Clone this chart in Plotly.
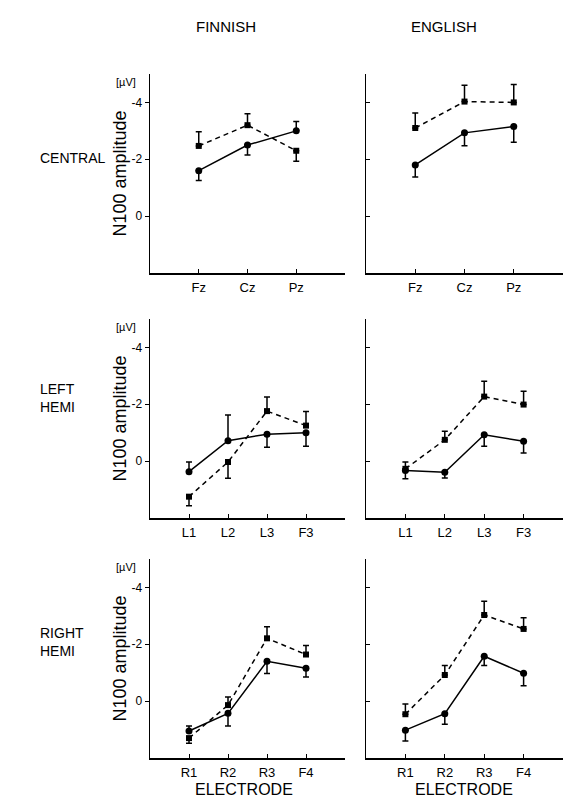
import plotly.graph_objects as go

# ---------------- data ----------------
central_labels = ["Fz", "Cz", "Pz"]
left_labels = ["L1", "L2", "L3", "F3"]
right_labels = ["R1", "R2", "R3", "F4"]

# N100 amplitude (µV); err_pos = error toward positive values, err_neg = toward negative values
fin_central_solid = [-1.6, -2.5, -3.0]
fin_central_solid_pos = [0.35, 0.35, 0.0]
fin_central_solid_neg = [0.0, 0.0, 0.33]
fin_central_dash = [-2.47, -3.2, -2.3]
fin_central_dash_pos = [0.0, 0.0, 0.37]
fin_central_dash_neg = [0.5, 0.4, 0.0]

eng_central_solid = [-1.8, -2.93, -3.15]
eng_central_solid_pos = [0.42, 0.45, 0.55]
eng_central_solid_neg = [0.0, 0.0, 0.0]
eng_central_dash = [-3.1, -4.03, -4.0]
eng_central_dash_pos = [0.0, 0.0, 0.0]
eng_central_dash_neg = [0.53, 0.57, 0.63]

fin_left_solid = [0.37, -0.72, -0.95, -1.0]
fin_left_solid_pos = [0.0, 0.0, 0.46, 0.48]
fin_left_solid_neg = [0.34, 0.9, 0.0, 0.0]
fin_left_dash = [1.25, 0.03, -1.76, -1.25]
fin_left_dash_pos = [0.32, 0.57, 0.0, 0.0]
fin_left_dash_neg = [0.0, 0.0, 0.5, 0.5]

eng_left_solid = [0.33, 0.39, -0.93, -0.7]
eng_left_solid_pos = [0.29, 0.2, 0.41, 0.41]
eng_left_solid_neg = [0.0, 0.0, 0.0, 0.0]
eng_left_dash = [0.27, -0.75, -2.27, -1.99]
eng_left_dash_pos = [0.0, 0.0, 0.0, 0.0]
eng_left_dash_neg = [0.24, 0.3, 0.54, 0.47]

fin_right_solid = [1.05, 0.43, -1.4, -1.16]
fin_right_solid_pos = [0.0, 0.44, 0.43, 0.31]
fin_right_solid_neg = [0.18, 0.0, 0.0, 0.0]
fin_right_dash = [1.3, 0.14, -2.21, -1.64]
fin_right_dash_pos = [0.18, 0.0, 0.0, 0.0]
fin_right_dash_neg = [0.0, 0.29, 0.41, 0.32]

eng_right_solid = [1.02, 0.44, -1.58, -0.98]
eng_right_solid_pos = [0.38, 0.37, 0.33, 0.44]
eng_right_solid_neg = [0.0, 0.0, 0.0, 0.0]
eng_right_dash = [0.46, -0.92, -3.03, -2.54]
eng_right_dash_pos = [0.0, 0.0, 0.0, 0.0]
eng_right_dash_neg = [0.36, 0.33, 0.48, 0.39]

y_tick_vals = [-4, -2, 0]
y_tick_text = ["-4", "-2", "0"]
column_titles = ["FINNISH", "ENGLISH"]
row_titles = ["CENTRAL", "LEFT<br>HEMI", "RIGHT<br>HEMI"]
y_title = "N100 amplitude"
unit_label = "[µV]"
x_title = "ELECTRODE"

# ---------------- layout helpers ----------------
W, H = 564, 799
FONT = "Liberation Sans, Arial, Helvetica, sans-serif"

def px_x(p):
    return p / W

def px_y(p):
    return 1 - p / H

col_dom = [(150, 345), (366, 563)]
row_dom = [(74, 273), (319, 518), (559, 758)]

panels = [
    (0, 0, central_labels, fin_central_solid, fin_central_solid_pos, fin_central_solid_neg,
     fin_central_dash, fin_central_dash_pos, fin_central_dash_neg),
    (0, 1, central_labels, eng_central_solid, eng_central_solid_pos, eng_central_solid_neg,
     eng_central_dash, eng_central_dash_pos, eng_central_dash_neg),
    (1, 0, left_labels, fin_left_solid, fin_left_solid_pos, fin_left_solid_neg,
     fin_left_dash, fin_left_dash_pos, fin_left_dash_neg),
    (1, 1, left_labels, eng_left_solid, eng_left_solid_pos, eng_left_solid_neg,
     eng_left_dash, eng_left_dash_pos, eng_left_dash_neg),
    (2, 0, right_labels, fin_right_solid, fin_right_solid_pos, fin_right_solid_neg,
     fin_right_dash, fin_right_dash_pos, fin_right_dash_neg),
    (2, 1, right_labels, eng_right_solid, eng_right_solid_pos, eng_right_solid_neg,
     eng_right_dash, eng_right_dash_pos, eng_right_dash_neg),
]

fig = go.Figure()
layout = dict(
    width=W, height=H,
    margin=dict(l=0, r=0, t=0, b=0),
    paper_bgcolor="white", plot_bgcolor="white",
    showlegend=False,
    font=dict(family=FONT, color="black"),
)
annotations = []

for i, (r, c, labels, s, s_pos, s_neg, d, d_pos, d_neg) in enumerate(panels):
    idx = i + 1
    xa = "x" if idx == 1 else f"x{idx}"
    ya = "y" if idx == 1 else f"y{idx}"
    xs = list(range(len(labels)))
    err_style = dict(type="data", symmetric=False, color="black", thickness=1.5, width=3)
    fig.add_trace(go.Scatter(
        x=xs, y=d, mode="lines+markers", xaxis=xa, yaxis=ya,
        line=dict(color="black", width=1.5, dash="5px,4px"),
        marker=dict(symbol="square", size=6, color="black"),
        error_y=dict(array=d_pos, arrayminus=d_neg, **err_style),
    ))
    fig.add_trace(go.Scatter(
        x=xs, y=s, mode="lines+markers", xaxis=xa, yaxis=ya,
        line=dict(color="black", width=1.5),
        marker=dict(symbol="circle", size=7, color="black"),
        error_y=dict(array=s_pos, arrayminus=s_neg, **err_style),
    ))
    x0, x1 = col_dom[c]
    yt, yb = row_dom[r]
    xkey = "xaxis" if idx == 1 else f"xaxis{idx}"
    ykey = "yaxis" if idx == 1 else f"yaxis{idx}"
    layout[xkey] = dict(
        domain=[px_x(x0), px_x(x1)], anchor=ya, range=[-1, len(labels)],
        tickmode="array", tickvals=xs, ticktext=labels,
        ticks="inside", ticklen=4, tickwidth=1, tickcolor="black",
        ticklabelstandoff=2,
        showline=True, linecolor="black", linewidth=1.5,
        showgrid=False, zeroline=False,
        tickfont=dict(size=13, family=FONT, color="black"),
        fixedrange=True,
    )
    layout[ykey] = dict(
        domain=[px_y(yb), px_y(yt)], anchor=xa, range=[2, -5],
        tickmode="array", tickvals=y_tick_vals, ticktext=y_tick_text,
        ticks="outside" if c == 0 else "inside", ticklen=4, tickwidth=1, tickcolor="black",
        showticklabels=(c == 0),
        showline=True, linecolor="black", linewidth=1.5,
        showgrid=False, zeroline=False,
        tickfont=dict(size=12, family=FONT, color="black"),
        fixedrange=True,
    )
    if c == 0:
        annotations.append(dict(
            text=y_title, textangle=-90, x=px_x(119), y=px_y((yt + yb) / 2),
            xref="paper", yref="paper", showarrow=False, xanchor="center", yanchor="middle",
            font=dict(size=18, family=FONT, color="black"),
        ))
        annotations.append(dict(
            text=unit_label, x=px_x(126), y=px_y(yt + 8),
            xref="paper", yref="paper", showarrow=False, xanchor="center", yanchor="middle",
            font=dict(size=11, family=FONT, color="black"),
        ))

# column titles
for title, xc in zip(column_titles, [226, 444]):
    annotations.append(dict(
        text=title, x=px_x(xc), y=px_y(27), xref="paper", yref="paper",
        showarrow=False, xanchor="center", yanchor="middle",
        font=dict(size=15, family=FONT, color="black"),
    ))

# row titles
for title, yc in zip(row_titles, [158, 398, 642]):
    annotations.append(dict(
        text=title, x=px_x(38), y=px_y(yc), xref="paper", yref="paper",
        showarrow=False, xanchor="left", yanchor="middle", align="left",
        font=dict(size=14, family=FONT, color="black"),
    ))

# x titles
for xc in [244, 464]:
    annotations.append(dict(
        text=x_title, x=px_x(xc), y=px_y(799), xref="paper", yref="paper",
        showarrow=False, xanchor="center", yanchor="bottom", yshift=-1,
        font=dict(size=16, family=FONT, color="black"),
    ))

layout["annotations"] = annotations
fig.update_layout(**layout)
fig.write_html(
    "out.html",
    config={"displayModeBar": False, "staticPlot": True},
    post_script="document.body.style.margin='0';document.body.style.overflow='hidden';",
)
